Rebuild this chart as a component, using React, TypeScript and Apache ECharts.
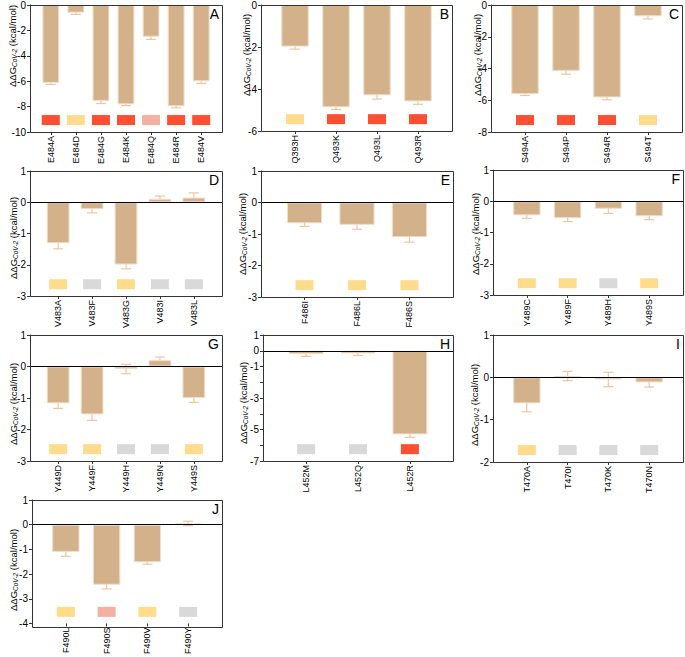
import React, { useEffect, useRef } from "react";
import * as echarts from "echarts";

const catsA = ["E484A", "E484D", "E484G", "E484K", "E484Q", "E484R", "E484V"];
const valsA = [-6.13, -0.6, -7.55, -7.82, -2.5, -7.97, -6.0];
const errsA = [0.13, 0.14, 0.21, 0.1, 0.21, 0.13, 0.18];
const tagsA = ["R", "Y", "R", "R", "P", "R", "R"];

const catsB = ["Q393H", "Q493K", "Q493L", "Q493R"];
const valsB = [-1.98, -4.87, -4.3, -4.59];
const errsB = [0.12, 0.1, 0.18, 0.14];
const tagsB = ["Y", "R", "R", "R"];

const catsC = ["S494A", "S494P", "S494R", "S494T"];
const valsC = [-5.61, -4.15, -5.82, -0.71];
const errsC = [0.09, 0.21, 0.15, 0.17];
const tagsC = ["R", "R", "R", "Y"];

const catsD = ["V483A", "V483F", "V483G", "V483I", "V483L"];
const valsD = [-1.31, -0.22, -1.99, 0.11, 0.15];
const errsD = [0.18, 0.12, 0.14, 0.09, 0.15];
const tagsD = ["Y", "G", "Y", "G", "G"];

const catsE = ["F486I", "F486L", "F486S"];
const valsE = [-0.66, -0.71, -1.1];
const errsE = [0.1, 0.14, 0.16];
const tagsE = ["Y", "Y", "Y"];

const catsF = ["Y489C", "Y489F", "Y489H", "Y489S"];
const valsF = [-0.45, -0.54, -0.24, -0.48];
const errsF = [0.1, 0.11, 0.15, 0.11];
const tagsF = ["Y", "Y", "G", "Y"];

const catsG = ["Y449D", "Y449F", "Y449H", "Y449N", "Y449S"];
const valsG = [-1.17, -1.52, -0.08, 0.2, -1.0];
const errsG = [0.16, 0.19, 0.15, 0.1, 0.14];
const tagsG = ["Y", "Y", "G", "G", "Y"];

const catsH = ["L452M", "L452Q", "L452R"];
const valsH = [-0.21, -0.17, -5.31];
const errsH = [0.15, 0.13, 0.19];
const tagsH = ["G", "G", "R"];

const catsI = ["T470A", "T470I", "T470K", "T470N"];
const valsI = [-0.615, 0.03, -0.05, -0.12];
const errsI = [0.2, 0.11, 0.17, 0.11];
const tagsI = ["Y", "G", "G", "G"];

const catsJ = ["F490L", "F490S", "F490V", "F490Y"];
const valsJ = [-1.1, -2.43, -1.52, 0.05];
const errsJ = [0.18, 0.17, 0.08, 0.09];
const tagsJ = ["Y", "P", "Y", "G"];

const TAG_COLORS: Record<string, string> = {
  R: "#FF4F33",
  Y: "#FFDB8C",
  P: "#F2B1A3",
  G: "#D9D9D9",
};

const FONT = "Liberation Sans, Arial, sans-serif";
const BAR = "#D3B28B";
const ERR = "#EBC7A2";
const PAD = 0.33; // empty space at each side of the category axis, in category widths

const panels = [
  { key: "A", cats: catsA, vals: valsA, errs: errsA, tags: tagsA, min: -10, max: 0, interval: 2, box: { left: 30, top: 5, width: 192, height: 127 }, nm: [12, 46] },
  { key: "B", cats: catsB, vals: valsB, errs: errsB, tags: tagsB, min: -6, max: 0, interval: 2, box: { left: 261, top: 5, width: 191, height: 126 }, nm: [246, 55] },
  { key: "C", cats: catsC, vals: valsC, errs: errsC, tags: tagsC, min: -8, max: 0, interval: 2, box: { left: 491, top: 5, width: 191, height: 127 }, nm: [477, 55] },
  { key: "D", cats: catsD, vals: valsD, errs: errsD, tags: tagsD, min: -3, max: 1, interval: 1, box: { left: 30, top: 171, width: 192, height: 125 }, nm: [13, 238] },
  { key: "E", cats: catsE, vals: valsE, errs: errsE, tags: tagsE, min: -3, max: 1, interval: 1, box: { left: 261, top: 171, width: 192, height: 126 }, nm: [242, 234] },
  { key: "F", cats: catsF, vals: valsF, errs: errsF, tags: tagsF, min: -3, max: 1, interval: 1, box: { left: 493, top: 170, width: 190, height: 125 }, nm: [475, 234] },
  { key: "G", cats: catsG, vals: valsG, errs: errsG, tags: tagsG, min: -3, max: 1, interval: 1, box: { left: 30, top: 335, width: 192, height: 126 }, nm: [13, 404] },
  { key: "H", cats: catsH, vals: valsH, errs: errsH, tags: tagsH, min: -7, max: 1, interval: 1, box: { left: 263, top: 335, width: 190, height: 126 }, nm: [243, 403], oddOnly: true },
  { key: "I", cats: catsI, vals: valsI, errs: errsI, tags: tagsI, min: -2, max: 1, interval: 1, box: { left: 493, top: 335, width: 190, height: 127 }, nm: [474, 405] },
  { key: "J", cats: catsJ, vals: valsJ, errs: errsJ, tags: tagsJ, min: -4, max: 1, interval: 1, box: { left: 32, top: 500, width: 190, height: 127 }, nm: [13, 570] },
];

function buildOption() {
  const grid: any[] = [];
  const xAxis: any[] = [];
  const yAxis: any[] = [];
  const series: any[] = [];
  const graphic: any[] = [];

  panels.forEach((p, gi) => {
    const b = p.box;
    const n = p.cats.length;
    const cw = b.width / (n + 2 * PAD);
    const padPx = PAD * cw;

    grid.push({
      left: b.left + padPx,
      top: b.top,
      width: b.width - 2 * padPx,
      height: b.height,
      show: false,
      containLabel: false,
    });
    xAxis.push({
      type: "category",
      gridIndex: gi,
      data: p.cats,
      axisLine: { show: false, onZero: false },
      axisTick: { show: true, alignWithLabel: true, length: 3, lineStyle: { color: "#333" } },
      axisLabel: { rotate: 90, fontSize: 9, color: "#000", fontFamily: FONT, margin: 4 },
      splitLine: { show: false },
    });
    yAxis.push({
      type: "value",
      gridIndex: gi,
      min: p.min,
      max: p.max,
      interval: p.interval,
      offset: padPx,
      axisLine: { show: true, onZero: false, lineStyle: { color: "#333" } },
      axisTick: { show: true, length: 3, lineStyle: { color: "#333" } },
      axisLabel: {
        fontSize: 10,
        color: "#000",
        fontFamily: FONT,
        margin: 4,
        formatter: (v: number) => {
          if ((p as any).oddOnly && v !== 0 && Math.abs(v) % 2 === 0) return "";
          return String(v);
        },
      },
      splitLine: { show: false },
    });

    const hasZero = p.min < 0 && p.max > 0;
    series.push({
      type: "custom",
      xAxisIndex: gi,
      yAxisIndex: gi,
      z: 1,
      silent: true,
      data: p.vals.map((v, i) => [i, v - p.errs[i], v + p.errs[i]]),
      encode: { x: 0, y: [1, 2] },
      renderItem: (params: any, api: any) => {
        const i = api.value(0);
        const a = api.coord([i, api.value(1)]);
        const c = api.coord([i, api.value(2)]);
        const x = a[0];
        const w = 5;
        const st = { stroke: ERR, lineWidth: 1.2 };
        return {
          type: "group",
          children: [
            { type: "line", shape: { x1: x, y1: a[1], x2: x, y2: c[1] }, style: st },
            { type: "line", shape: { x1: x - w, y1: a[1], x2: x + w, y2: a[1] }, style: st },
            { type: "line", shape: { x1: x - w, y1: c[1], x2: x + w, y2: c[1] }, style: st },
          ],
        };
      },
    });
    series.push({
      type: "bar",
      xAxisIndex: gi,
      yAxisIndex: gi,
      z: 2,
      barWidth: "67%",
      data: p.vals,
      itemStyle: { color: BAR, borderColor: "#EFDDC8", borderWidth: 1 },
      markLine: hasZero
        ? {
            silent: true,
            symbol: ["none", "none"],
            label: { show: false },
            lineStyle: { color: "#000", width: 1.2, type: "solid" },
            data: [[{ x: b.left, yAxis: 0 }, { x: b.left + b.width, yAxis: 0 }]],
          }
        : undefined,
    });
    const tagY = p.min + 0.094 * (p.max - p.min);
    series.push({
      type: "scatter",
      xAxisIndex: gi,
      yAxisIndex: gi,
      z: 3,
      symbol: "rect",
      symbolSize: [18, 10],
      silent: true,
      data: p.tags.map((t, i) => ({
        value: [p.cats[i], tagY],
        itemStyle: { color: TAG_COLORS[t], opacity: 1 },
      })),
    });

    graphic.push({
      type: "rect",
      silent: true,
      z: 10,
      shape: { x: Math.round(b.left) + 0.5, y: Math.round(b.top) + 0.5, width: b.width, height: b.height },
      style: { fill: "none", stroke: "#333", lineWidth: 1 },
    });
    graphic.push({
      type: "text",
      x: b.left + b.width - 3,
      y: b.top + 2,
      style: {
        text: p.key,
        fontSize: 14,
        fontFamily: FONT,
        fill: "#000",
        align: "right",
        verticalAlign: "top",
      },
    });
    graphic.push({
      type: "text",
      x: p.nm[0],
      y: p.nm[1],
      rotation: Math.PI / 2,
      originX: 0,
      originY: 0,
      style: {
        text: "{a|ΔΔG}{s|CoV-2}{a| (kcal/mol)}",
        x: 0,
        y: 0,
        align: "center",
        verticalAlign: "middle",
        fill: "#000",
        rich: {
          a: { fontSize: 9.5, fontFamily: FONT, fill: "#000" },
          s: { fontSize: 6.5, fontFamily: FONT, fontStyle: "italic", fill: "#000", padding: [5, 0, 0, 0] },
        },
      },
    });
  });

  return {
    animation: false,
    backgroundColor: "#fff",
    grid,
    xAxis,
    yAxis,
    series,
    graphic,
  };
}

export default function App() {
  const ref = useRef<HTMLDivElement>(null);
  useEffect(() => {
    document.body.style.margin = "0";
    if (!ref.current) return;
    const chart = echarts.init(ref.current, undefined, { renderer: "svg" });
    chart.setOption(buildOption() as any);
    return () => chart.dispose();
  }, []);
  return <div ref={ref} style={{ width: 685, height: 657 }} />;
}
